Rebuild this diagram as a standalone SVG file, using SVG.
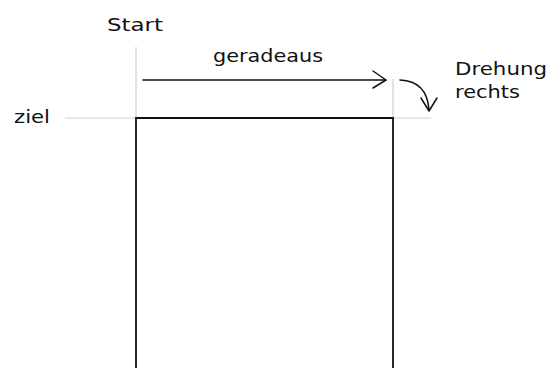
<svg xmlns="http://www.w3.org/2000/svg" width="555" height="368" viewBox="0 0 555 368">
<style>
text{font-family:"DejaVu Sans","Liberation Sans",sans-serif;font-size:18px;fill:#111}
.guide{stroke:#cfcfcf;stroke-width:1.2;fill:none}
.ink{stroke:#111;stroke-width:1.5;fill:none;stroke-linecap:round;stroke-linejoin:round}
</style>
<rect width="555" height="368" fill="#fff"/>
<g id="guides">
<line class="guide" x1="65" y1="118" x2="431" y2="118"/>
<line class="guide" x1="136" y1="47" x2="136" y2="118"/>
<line class="guide" x1="393" y1="79" x2="393" y2="118"/>
</g>
<g id="feld">
<path d="M136,370 V118 H393 V370" stroke="#111" stroke-width="1.8" fill="none"/>
</g>
<g id="connectors">
<line class="ink" x1="143" y1="80" x2="386" y2="80"/>
<polyline class="ink" points="373,71 386,80 373,88"/>
<path class="ink" d="M400,80 Q427,81 429,110"/>
<polyline class="ink" points="421,98 429,111 437,98"/>
</g>
<g id="labels">
<text x="107" y="31" textLength="56" lengthAdjust="spacingAndGlyphs">Start</text>
<text x="14" y="123" textLength="36" lengthAdjust="spacingAndGlyphs">ziel</text>
<text x="213" y="62" textLength="110" lengthAdjust="spacingAndGlyphs">geradeaus</text>
<text x="455" y="75" textLength="92" lengthAdjust="spacingAndGlyphs">Drehung</text>
<text x="455" y="98" textLength="65" lengthAdjust="spacingAndGlyphs">rechts</text>
</g>
</svg>
